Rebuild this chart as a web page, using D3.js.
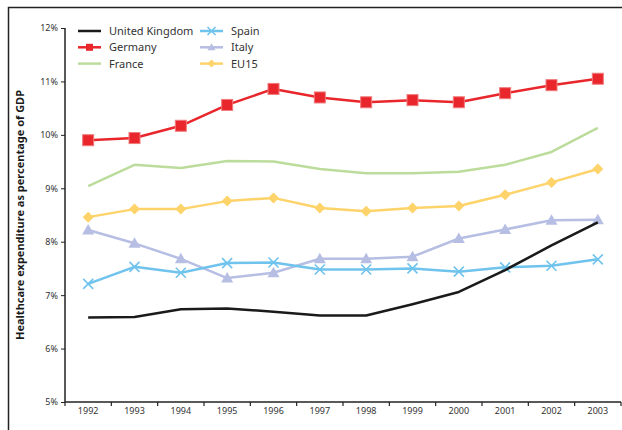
<!DOCTYPE html>
<html><head><meta charset="utf-8">
<script src="https://cdn.jsdelivr.net/npm/d3@7/dist/d3.min.js"></script>
<style>body{margin:0;background:#fff}svg{display:block}</style>
</head><body><svg id="c" width="622" height="430"></svg>
<script>
const years = ["1992","1993","1994","1995","1996","1997","1998","1999","2000","2001","2002","2003"];
const ukValues = [6.58,6.59,6.735,6.75,6.69,6.62,6.62,6.83,7.06,7.47,7.93,8.36];
const germanyValues = [9.90,9.94,10.17,10.56,10.86,10.70,10.61,10.65,10.61,10.78,10.93,11.05];
const franceValues = [9.04,9.44,9.38,9.51,9.50,9.36,9.28,9.28,9.31,9.44,9.68,10.13];
const spainValues = [7.21,7.53,7.42,7.60,7.61,7.48,7.48,7.50,7.44,7.52,7.55,7.67];
const italyValues = [8.22,7.97,7.68,7.32,7.42,7.68,7.68,7.72,8.06,8.23,8.40,8.41];
const eu15Values = [8.46,8.61,8.61,8.76,8.82,8.63,8.57,8.63,8.67,8.88,9.11,9.36];
const yTicks = [5,6,7,8,9,10,11,12];
const seriesNames = ["United Kingdom","Germany","France","Spain","Italy","EU15"];

const series = [
  {name:seriesNames[0], values:ukValues, color:"#1a1a1a", marker:null, w:2.5},
  {name:seriesNames[1], values:germanyValues, color:"#e8262b", marker:"square", w:2.5},
  {name:seriesNames[2], values:franceValues, color:"#bcdc9c", marker:null, w:2.5},
  {name:seriesNames[3], values:spainValues, color:"#6fc3ec", marker:"x", w:2.5},
  {name:seriesNames[4], values:italyValues, color:"#b7bee3", marker:"triangle", w:2.5},
  {name:seriesNames[5], values:eu15Values, color:"#fdd36a", marker:"diamond", w:2.5}
];

const svg = d3.select("#c");
const font = "'Noto Sans', 'Open Sans', sans-serif";

// frame
svg.append("path").attr("d","M8.5,430 V7.5 H622").attr("fill","none").attr("stroke","#222").attr("stroke-width",1.5);

const x = d3.scaleBand().domain(years).range([65,621]);
const y = d3.scaleLinear().domain([5,12]).range([402,28]);

// y axis
const ya = svg.append("g").attr("transform","translate(65,0)")
  .call(d3.axisLeft(y).tickValues(yTicks).tickFormat(d=>d+"%").tickSize(4).tickPadding(3));
ya.select(".domain").attr("stroke","#222").attr("stroke-width",1.5).attr("d","M0,28V402");
ya.selectAll(".tick line").attr("stroke","#222");
ya.selectAll("text").attr("font-family",font).attr("font-size",9).attr("fill","#333");

// x axis
const xa = svg.append("g").attr("transform","translate(0,402)")
  .call(d3.axisBottom(x).tickSize(0).tickPadding(6));
xa.select(".domain").attr("stroke","#222").attr("stroke-width",1.5).attr("d","M65,0H621");
xa.selectAll("text").attr("font-family",font).attr("font-size",9).attr("fill","#333");
const bounds = years.map(d=>x(d)).concat([x(years[years.length-1])+x.bandwidth()]);
xa.selectAll(".bt").data(bounds).enter().append("line").attr("class","bt")
  .attr("x1",d=>d).attr("x2",d=>d).attr("y1",0).attr("y2",4).attr("stroke","#222").attr("stroke-width",1.2);

// y label
svg.append("text").attr("transform","translate(24,215) rotate(-90)").attr("text-anchor","middle")
  .attr("font-family",font).attr("font-size",11).attr("font-weight","bold").attr("fill","#1a1a1a")
  .text("Healthcare expenditure as percentage of GDP");

const cx = d => x(d) + x.bandwidth()/2;
const line = d3.line().x((v,i)=>cx(years[i])).y(v=>y(v));

function marker(g, type, color, px, py, s){
  if(type==="square"){
    g.append("rect").attr("x",px-5.5).attr("y",py-5.5).attr("width",11).attr("height",11)
      .attr("fill",color).attr("stroke","#f07a7c").attr("stroke-width",1);
  } else if(type==="x"){
    const r = s||5;
    g.append("path").attr("d",`M${px-r},${py-r}L${px+r},${py+r}M${px-r},${py+r}L${px+r},${py-r}`)
      .attr("stroke",color).attr("stroke-width",1.6).attr("fill","none");
  } else if(type==="triangle"){
    const r = s||6;
    g.append("path").attr("d",`M${px},${py-r}L${px+r},${py+r*0.75}L${px-r},${py+r*0.75}Z`).attr("fill",color);
  } else if(type==="diamond"){
    const r = s||5.5;
    g.append("path").attr("d",`M${px},${py-r}L${px+r},${py}L${px},${py+r}L${px-r},${py}Z`).attr("fill",color);
  }
}

const order = [2,5,4,3,0,1];
order.forEach(k=>{
  const s = series[k];
  const g = svg.append("g");
  g.append("path").attr("d",line(s.values)).attr("fill","none").attr("stroke",s.color)
    .attr("stroke-width",s.w).attr("stroke-linejoin","round");
  if(s.marker) s.values.forEach((v,i)=>marker(g,s.marker,s.color,cx(years[i]),y(v)));
});

// legend
const lg = svg.append("g");
series.forEach((s,i)=>{
  const col = Math.floor(i/3), row = i%3;
  const lx = col===0?78:200, ly = 31 + row*16.3;
  lg.append("line").attr("x1",lx).attr("x2",lx+23).attr("y1",ly).attr("y2",ly).attr("stroke",s.color).attr("stroke-width",2.5);
  if(s.marker){
    const sz = s.marker==="square"?null:4;
    if(s.marker==="square"){
      lg.append("rect").attr("x",lx+11.5-3.5).attr("y",ly-3.5).attr("width",7).attr("height",7).attr("fill",s.color);
    } else marker(lg,s.marker,s.color,lx+11.5,ly,sz);
  }
  lg.append("text").attr("x",col===0?109:231).attr("y",ly+4).attr("font-family",font).attr("font-size",11)
    .attr("fill","#333").text(s.name);
});
</script></body></html>
